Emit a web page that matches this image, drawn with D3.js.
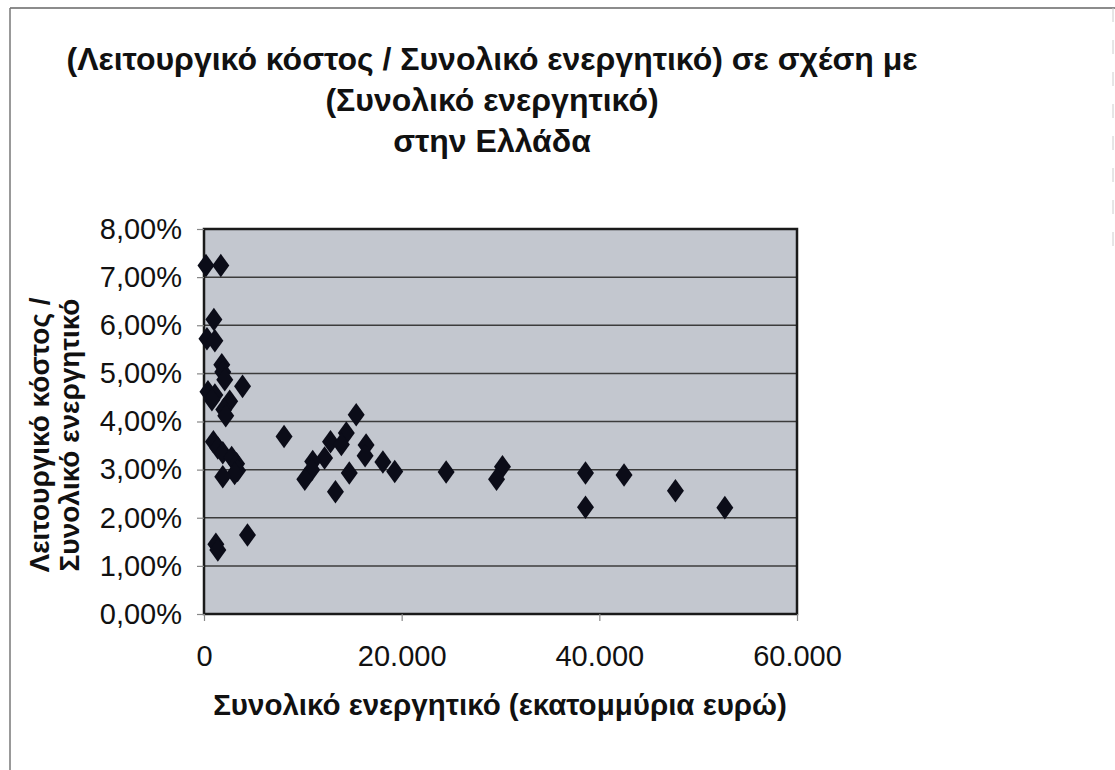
<!DOCTYPE html>
<html><head><meta charset="utf-8">
<script src="https://cdn.jsdelivr.net/npm/d3@7"></script>
<style>
html,body{margin:0;padding:0;background:#fff;}
svg text{font-family:"Liberation Sans",Arial,sans-serif;fill:#111;}
</style></head>
<body>
<svg id="c" width="1115" height="770"></svg>
<script>
const titleLines = ["(Λειτουργικό κόστος / Συνολικό ενεργητικό) σε σχέση με","(Συνολικό ενεργητικό)","στην Ελλάδα"];
const xTitle = "Συνολικό ενεργητικό (εκατομμύρια ευρώ)";
const yTitleLines = ["Λειτουργικό κόστος /","Συνολικό ενεργητικό"];
const xTicks = [0,20000,40000,60000];
const yTicks = [0,1,2,3,4,5,6,7,8];
// total assets (million EUR)
const assets = [200,1700,1000,300,1100,1800,1900,2100,3900,400,1100,800,2600,2000,2200,
  950,1400,1900,2800,3300,3400,3100,1900,1200,1400,4400,
  8100,15400,12800,14400,13900,16400,16300,12200,11000,10900,10200,14700,13300,18100,19300,
  24500,30200,29600,38600,38600,42500,47700,52700];
// operating cost / total assets (%)
const ratio = [7.24,7.24,6.12,5.72,5.68,5.18,5.03,4.87,4.73,4.62,4.55,4.45,4.42,4.25,4.12,
  3.58,3.45,3.35,3.25,3.12,2.98,2.92,2.85,1.45,1.33,1.64,
  3.69,4.14,3.58,3.76,3.52,3.51,3.29,3.24,3.17,3.00,2.80,2.93,2.54,3.16,2.96,
  2.95,3.06,2.80,2.93,2.22,2.89,2.56,2.21];

const svg = d3.select("#c");
// outer frame
svg.append("line").attr("x1",10).attr("x2",1115).attr("y1",8).attr("y2",8).attr("stroke","#666").attr("stroke-width",1.5);
svg.append("line").attr("x1",10).attr("x2",10).attr("y1",8).attr("y2",770).attr("stroke","#777").attr("stroke-width",1.5);
svg.append("line").attr("x1",1113).attr("x2",1113).attr("y1",8).attr("y2",260).attr("stroke","#ccc").attr("stroke-width",1).attr("stroke-dasharray","14,18");

const L=204,R=797,T=229,B=614;
const x = d3.scaleLinear().domain([0,60000]).range([L,R]);
const y = d3.scaleLinear().domain([0,8]).range([B,T]);

svg.append("rect").attr("x",L).attr("y",T).attr("width",R-L).attr("height",B-T).attr("fill","#c3c7cf");
// gridlines
svg.append("g").selectAll("line").data(yTicks.filter(d=>d>0&&d<8)).join("line")
  .attr("x1",L).attr("x2",R).attr("y1",d=>y(d)).attr("y2",d=>y(d)).attr("stroke","#3c3c3c").attr("stroke-width",1.5);
svg.append("rect").attr("x",L).attr("y",T).attr("width",R-L).attr("height",B-T).attr("fill","none").attr("stroke","#1a1a1a").attr("stroke-width",2.5);

// axes
const fmtY = d => d.toFixed(2).replace(".",",")+"%";
const fmtX = d => d===0?"0":d3.format(",")(d).replace(/,/g,".");
const ya = svg.append("g").attr("transform",`translate(${L},0)`).call(d3.axisLeft(y).tickValues(yTicks).tickFormat(fmtY).tickSize(7).tickPadding(15));
const xa = svg.append("g").attr("transform",`translate(0,${B})`).call(d3.axisBottom(x).tickValues(xTicks).tickFormat(fmtX).tickSize(7).tickPadding(24));
[ya,xa].forEach(a=>{a.select(".domain").remove();a.selectAll(".tick line").attr("stroke","#888").attr("stroke-width",1.2);
  a.selectAll("text").attr("font-size",29).attr("fill","#111").style("font-family","'Liberation Sans',Arial,sans-serif");});

// points
const sym = d3.symbol().type(d3.symbolDiamond).size(160);
svg.append("g").selectAll("path").data(assets.map((a,i)=>[a,ratio[i]])).join("path")
  .attr("d",sym).attr("transform",d=>`translate(${x(d[0])},${y(d[1])}) scale(1.25,1)`).attr("fill","#0b0c18");

// titles
svg.append("g").selectAll("text").data(titleLines).join("text")
  .attr("x",492).attr("y",(d,i)=>70+i*41).attr("text-anchor","middle").attr("font-weight","bold").attr("font-size",32).text(d=>d);
svg.append("text").attr("x",500).attr("y",715).attr("text-anchor","middle").attr("font-weight","bold").attr("font-size",29.5).text(xTitle);
svg.append("g").selectAll("text").data(yTitleLines).join("text")
  .attr("transform",(d,i)=>`translate(${49+i*30},435) rotate(-90)`).attr("text-anchor","middle").attr("font-weight","bold").attr("font-size",28).text(d=>d);
</script>
</body></html>
